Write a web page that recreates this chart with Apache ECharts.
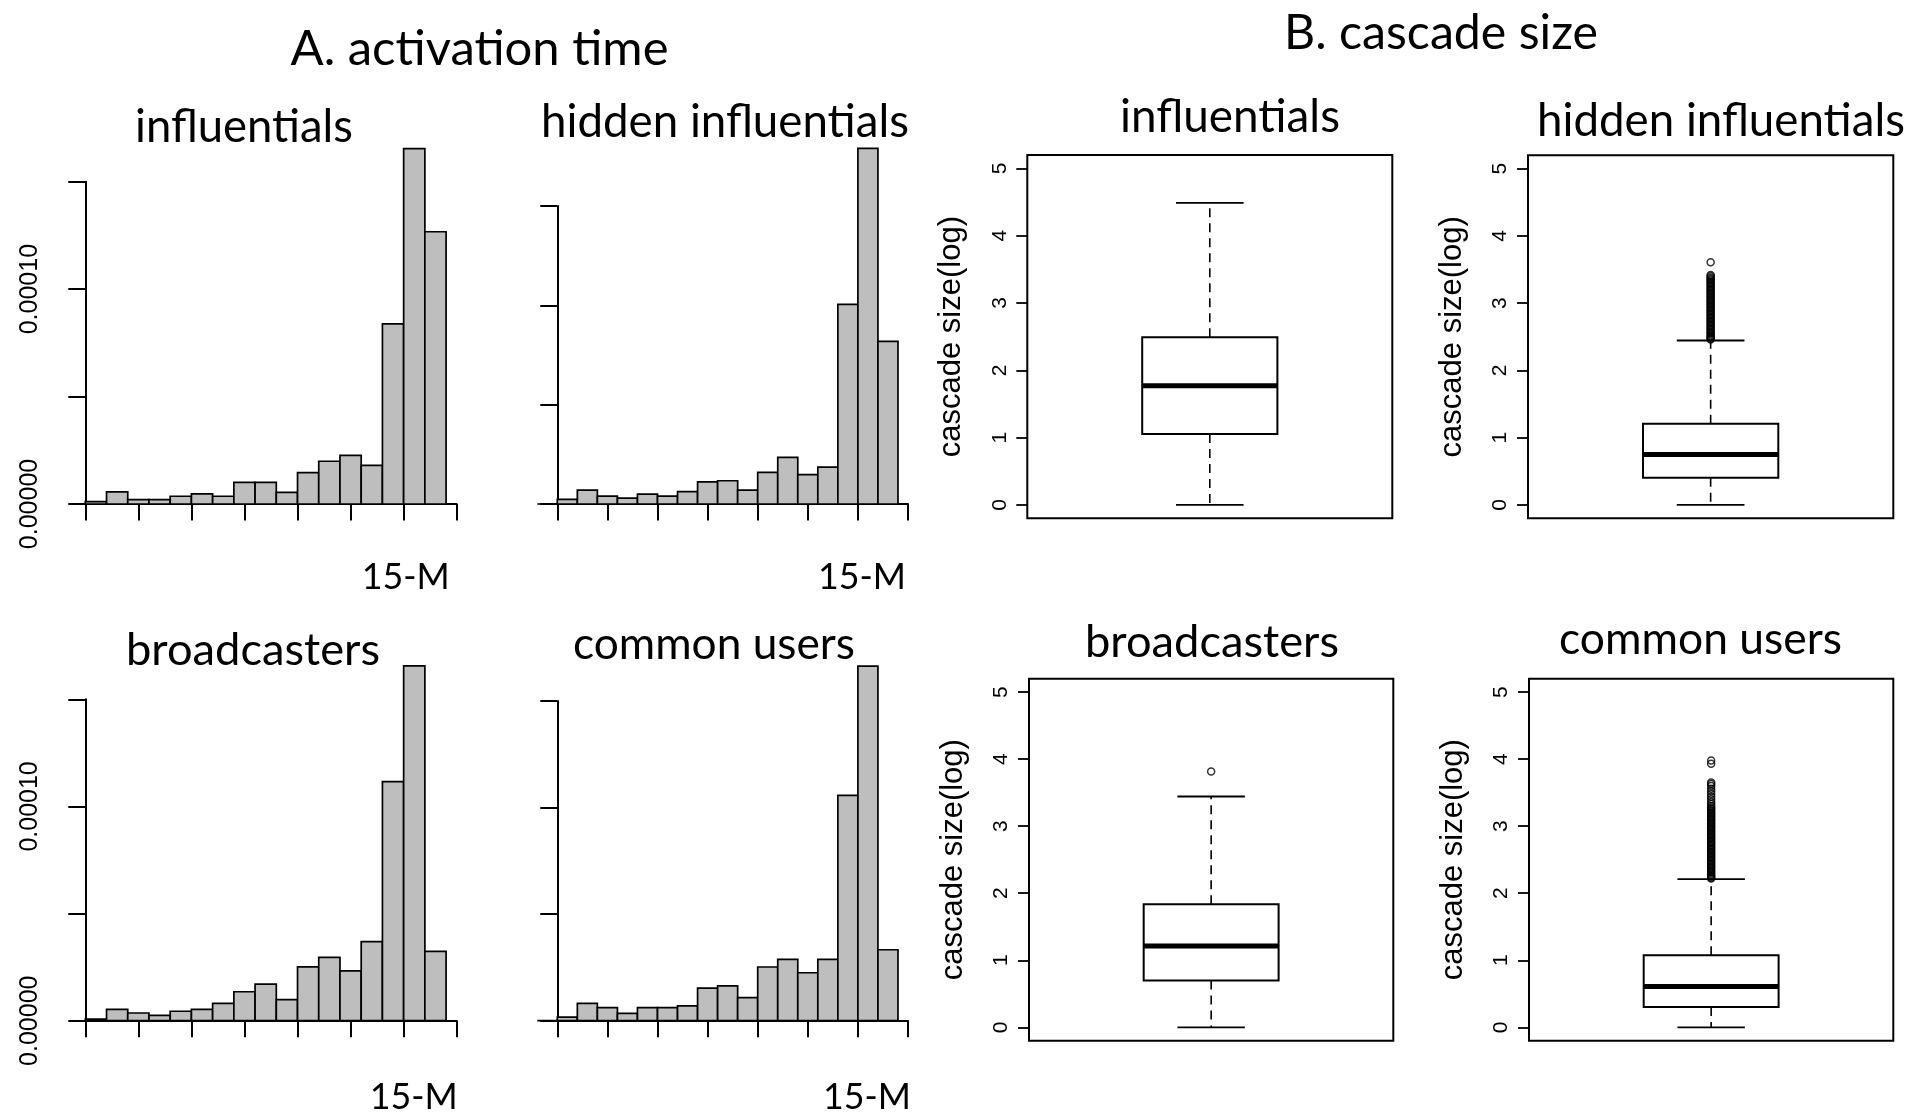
<!DOCTYPE html>
<html><head><meta charset="utf-8">
<script src="https://cdn.jsdelivr.net/npm/echarts@6/dist/echarts.min.js"></script>
<style>html,body{margin:0;padding:0;background:#fff}#c{width:1923px;height:1116px}</style>
</head><body><div id="c"></div>
<script>
// ---------------- data ----------------
const panelTitleA = 'A. activation time';
const panelTitleB = 'B. cascade size';
const groupNames = ['influentials', 'hidden influentials', 'broadcasters', 'common users'];

// histogram densities, one value per unit-width bin; first bin left edge given below
const histFirstBin = [0, -1, 0, -1];
const histInfluentials = [0.0000011, 0.0000056, 0.0000020, 0.0000020, 0.0000036, 0.0000047, 0.0000036, 0.0000101, 0.0000101, 0.0000054, 0.0000146, 0.0000199, 0.0000226, 0.0000180, 0.0000838, 0.0001654, 0.0001267];
const histHidden = [0, 0.0000023, 0.0000070, 0.0000040, 0.0000030, 0.0000050, 0.0000040, 0.0000062, 0.0000111, 0.0000117, 0.0000070, 0.0000159, 0.0000235, 0.0000148, 0.0000186, 0.0001005, 0.0001790, 0.0000819];
const histBroadcasters = [0.0000008, 0.0000053, 0.0000036, 0.0000025, 0.0000044, 0.0000053, 0.0000081, 0.0000135, 0.0000171, 0.0000098, 0.0000251, 0.0000296, 0.0000233, 0.0000369, 0.0001116, 0.0001656, 0.0000324];
const histCommon = [0, 0.0000017, 0.0000081, 0.0000061, 0.0000034, 0.0000061, 0.0000061, 0.0000070, 0.0000153, 0.0000163, 0.0000108, 0.0000252, 0.0000288, 0.0000225, 0.0000288, 0.0001057, 0.0001664, 0.0000333];
const histXMin = 0, histXMax = 17.5, histXStep = 2.5;
const histXLabelValue = 15, histXLabelText = '15-M';
const histYMax = 0.00015, histYStep = 0.00005;
const histYLabelValues = [0, 0.0001];
const histYLabelTexts = ['0.00000', '0.00010'];

// box plots: [min, Q1, median, Q3, upper whisker]
const boxInfluentials = [0, 1.054, 1.77, 2.49, 4.488];
const boxHidden = [0, 0.403, 0.75, 1.208, 2.445];
const boxBroadcasters = [0, 0.699, 1.213, 1.836, 3.443];
const boxCommon = [0, 0.304, 0.609, 1.073, 2.21];
const outInfluentials = [];
const outHidden = [2.46, 2.47, 2.49, 2.50, 2.52, 2.54, 2.56, 2.58, 2.60, 2.62, 2.64, 2.66, 2.68, 2.70, 2.72, 2.74, 2.76, 2.78, 2.80, 2.82, 2.84, 2.86, 2.88, 2.90, 2.92, 2.94, 2.96, 2.98, 3.00, 3.02, 3.04, 3.06, 3.08, 3.10, 3.12, 3.14, 3.16, 3.18, 3.20, 3.22, 3.24, 3.26, 3.28, 3.30, 3.32, 3.34, 3.36, 3.38, 3.40, 3.42, 3.608];
const outBroadcasters = [3.817];
const outCommon = [2.22, 2.23, 2.25, 2.26, 2.28, 2.30, 2.32, 2.34, 2.36, 2.38, 2.40, 2.42, 2.44, 2.46, 2.48, 2.50, 2.52, 2.54, 2.56, 2.58, 2.60, 2.62, 2.64, 2.66, 2.68, 2.70, 2.72, 2.74, 2.76, 2.78, 2.80, 2.82, 2.84, 2.86, 2.88, 2.90, 2.92, 2.94, 2.96, 2.98, 3.00, 3.02, 3.04, 3.06, 3.08, 3.10, 3.12, 3.14, 3.16, 3.18, 3.20, 3.22, 3.24, 3.26, 3.28, 3.30, 3.33, 3.36, 3.40, 3.44, 3.48, 3.52, 3.56, 3.60, 3.63, 3.65, 3.93, 3.98];
const boxYMin = -0.2, boxYMax = 5.2;
const boxYTicks = [0, 1, 2, 3, 4, 5];
const boxYName = 'cascade size(log)';

// ---------------- layout ----------------
const histData = [histInfluentials, histHidden, histBroadcasters, histCommon];
const boxData = [boxInfluentials, boxHidden, boxBroadcasters, boxCommon];
const outData = [outInfluentials, outHidden, outBroadcasters, outCommon];

const histGrids = [
  {left: 85.3, top: 181.7, width: 371.4, height: 322.3, yOff: 15.3, xOff: 14.3, labels: true, lblMargin: 41, lblShift: 2},
  {left: 557.3, top: 206, width: 350.7, height: 298, yOff: 34.6, xOff: 14.3, labels: false, lblMargin: 41, lblShift: 4},
  {left: 85.3, top: 699.3, width: 371.4, height: 321.4, yOff: 15.3, xOff: 15.3, labels: true, lblMargin: 43, lblShift: 10},
  {left: 557.3, top: 701, width: 350.7, height: 319.7, yOff: 34.6, xOff: 15.3, labels: false, lblMargin: 43, lblShift: 9}
];
const boxGrids = [
  {left: 1027.3, top: 155, width: 365, height: 363.3},
  {left: 1528, top: 155.3, width: 365.3, height: 363},
  {left: 1029, top: 678.7, width: 364.3, height: 362},
  {left: 1529, top: 678.7, width: 364.3, height: 362}
];
const titleLayout = [
  {text: panelTitleA, cx: 479.5, base: 64, w: 378},
  {text: panelTitleB, cx: 1441, base: 48, w: 314},
  {text: groupNames[0], cx: 244, base: 141, w: 218},
  {text: groupNames[1], cx: 725, base: 136, w: 368},
  {text: groupNames[2], cx: 253, base: 664, w: 254},
  {text: groupNames[3], cx: 714, base: 658, w: 282},
  {text: groupNames[0], cx: 1230, base: 131, w: 220},
  {text: groupNames[1], cx: 1721, base: 135, w: 368},
  {text: groupNames[2], cx: 1212, base: 656, w: 254},
  {text: groupNames[3], cx: 1700.5, base: 653, w: 283}
];

const TITLE_FONT = 'Lato';
const cv = document.createElement('canvas').getContext('2d');
function fitSize(text, w, fam) { cv.font = '100px ' + fam; return 100 * w / cv.measureText(text).width; }
const labelFont = fitSize(histXLabelText, 88, TITLE_FONT);

const grids = [], xAxes = [], yAxes = [], series = [];
histGrids.forEach((g, i) => {
  grids.push({left: g.left, top: g.top, width: g.width, height: g.height, show: false, containLabel: false});
  xAxes.push({
    gridIndex: i, type: 'value', min: histXMin, max: histXMax, interval: histXStep, offset: g.xOff,
    axisLine: {show: true, lineStyle: {color: '#000', width: 2}},
    axisTick: {show: true, length: 16.5, lineStyle: {color: '#000', width: 2}},
    splitLine: {show: false},
    axisLabel: {
      show: true, margin: g.lblMargin, color: '#000', fontFamily: TITLE_FONT, fontSize: labelFont,
      showMinLabel: true, showMaxLabel: true, hideOverlap: false,
      formatter: v => Math.abs(v - histXLabelValue) < 1e-6 ? '{m|' + histXLabelText + '}' : '',
      rich: {m: {fontFamily: TITLE_FONT, fontSize: labelFont, color: '#000', padding: [0, 0, 0, g.lblShift * 2]}}
    }
  });
  yAxes.push({
    gridIndex: i, type: 'value', min: 0, max: histYMax, interval: histYStep, offset: g.yOff,
    axisLine: {show: true, lineStyle: {color: '#000', width: 2}},
    axisTick: {show: true, length: 17, lineStyle: {color: '#000', width: 2}},
    splitLine: {show: false},
    axisLabel: {
      show: g.labels, rotate: 90, margin: 27, color: '#000', fontFamily: 'Liberation Sans', fontSize: 25,
      showMinLabel: true, showMaxLabel: true, hideOverlap: false,
      formatter: v => {
        for (let k = 0; k < histYLabelValues.length; k++) if (Math.abs(v - histYLabelValues[k]) < 1e-12) return histYLabelTexts[k];
        return '';
      }
    }
  });
  const start = histFirstBin[i];
  series.push({
    type: 'custom', xAxisIndex: i, yAxisIndex: i, clip: false, silent: true,
    data: histData[i].map((v, k) => [start + k, start + k + 1, v]),
    encode: {x: [0, 1], y: 2},
    renderItem: (params, api) => {
      const p0 = api.coord([api.value(0), 0]);
      const p1 = api.coord([api.value(1), api.value(2)]);
      return {type: 'rect', shape: {x: p0[0], y: p1[1], width: p1[0] - p0[0], height: p0[1] - p1[1]},
        style: {fill: '#bebebe', stroke: '#000', lineWidth: 1.7}};
    }
  });
});

const boxCenter = 1, boxHalf = 0.2, capHalf = 0.1;
boxGrids.forEach((g, j) => {
  const i = j + 4;
  grids.push({left: g.left, top: g.top, width: g.width, height: g.height, show: true, borderColor: '#000', borderWidth: 2, backgroundColor: 'transparent'});
  xAxes.push({gridIndex: i, type: 'value', min: 0.46, max: 1.54, show: false});
  yAxes.push({
    gridIndex: i, type: 'value', min: boxYMin, max: boxYMax,
    axisLine: {show: false},
    axisTick: {show: true, length: 11, customValues: boxYTicks, lineStyle: {color: '#000', width: 1.8}},
    splitLine: {show: false},
    axisLabel: {show: true, customValues: boxYTicks, rotate: 90, margin: 17, color: '#000', fontFamily: 'Liberation Sans', fontSize: 21},
    name: boxYName, nameLocation: 'middle', nameGap: 60, nameRotate: 90, nameMoveOverlap: false,
    nameTextStyle: {color: '#000', fontFamily: 'Liberation Sans', fontSize: 31}
  });
  const b = boxData[j];
  series.push({
    type: 'custom', xAxisIndex: i, yAxisIndex: i, clip: false, silent: true,
    data: [[boxCenter, b[0], b[1], b[2], b[3], b[4]]],
    encode: {x: 0, y: [1, 2, 3, 4, 5]},
    renderItem: (params, api) => {
      const x = api.value(0);
      const c = (a, v) => api.coord([a, v]);
      const lo = c(x, api.value(1)), q1 = c(x, api.value(2)), md = api.value(3), q3 = c(x, api.value(4)), hi = c(x, api.value(5));
      const l = c(x - boxHalf, api.value(4)), r = c(x + boxHalf, api.value(2));
      const cl = c(x - capHalf, 0)[0], cr = c(x + capHalf, 0)[0];
      const ml = c(x - boxHalf, md), mr = c(x + boxHalf, md);
      const dash = {stroke: '#000', lineWidth: 1.6, lineDash: [9, 6]};
      const solid = {stroke: '#000', lineWidth: 1.8};
      return {type: 'group', children: [
        {type: 'line', shape: {x1: q1[0], y1: q1[1], x2: lo[0], y2: lo[1]}, style: dash},
        {type: 'line', shape: {x1: q3[0], y1: q3[1], x2: hi[0], y2: hi[1]}, style: dash},
        {type: 'line', shape: {x1: cl, y1: lo[1], x2: cr, y2: lo[1]}, style: solid},
        {type: 'line', shape: {x1: cl, y1: hi[1], x2: cr, y2: hi[1]}, style: solid},
        {type: 'rect', shape: {x: l[0], y: l[1], width: r[0] - l[0], height: r[1] - l[1]}, style: {fill: '#fff', stroke: '#000', lineWidth: 2}},
        {type: 'line', shape: {x1: ml[0], y1: ml[1], x2: mr[0], y2: mr[1]}, style: {stroke: '#000', lineWidth: 5}}
      ]};
    }
  });
  series.push({
    type: 'scatter', xAxisIndex: i, yAxisIndex: i, silent: true, symbol: 'circle', symbolSize: 7,
    itemStyle: {color: 'rgba(0,0,0,0)', borderColor: '#000', borderWidth: 1.5},
    data: outData[j].map(v => [boxCenter, v])
  });
});

const graphic = titleLayout.map(t => {
  const fs = fitSize(t.text, t.w, TITLE_FONT);
  return {type: 'text', x: t.cx, y: t.base - 0.305 * fs, silent: true,
    style: {text: t.text, fontFamily: TITLE_FONT, fontSize: fs, fill: '#000', align: 'center', verticalAlign: 'middle'}};
});

const chart = echarts.init(document.getElementById('c'), null, {renderer: 'canvas'});
chart.setOption({
  backgroundColor: '#fff', animation: false,
  grid: grids, xAxis: xAxes, yAxis: yAxes, series: series, graphic: graphic
});
</script>
</body></html>
